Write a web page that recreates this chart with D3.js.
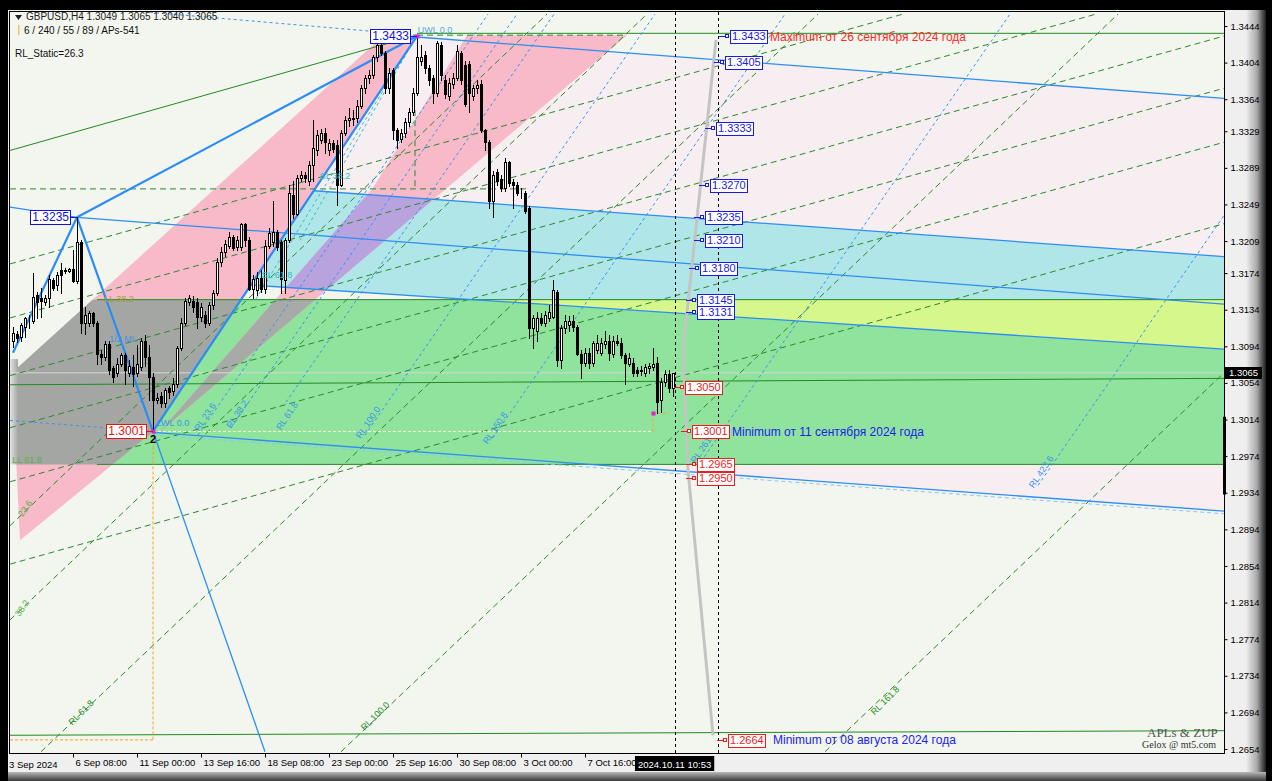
<!DOCTYPE html>
<html><head><meta charset="utf-8">
<script src="https://cdn.jsdelivr.net/npm/d3@7/dist/d3.min.js"></script>
<style>
html,body{margin:0;padding:0;background:#000;overflow:hidden}
svg{display:block;font-family:"Liberation Sans",Arial,sans-serif}
</style></head><body>
<svg id="chart" width="1272" height="781"></svg>
<script>
// ---------------- DATA ----------------
const symbolTitle = "GBPUSD,H4  1.3049 1.3065 1.3040 1.3065";
const infoLine = "6 / 240 / 55 / 89 / APs-541";
const staticLine = "RL_Static=26.3";
// H4 candles [open, high, low, close], bar 0 = 3 Sep 20:00
const candles = [
[1.3100,1.3115,1.3093,1.3109],[1.3108,1.3111,1.3099,1.3103],[1.3104,1.3120,1.3100,1.3117],[1.3115,1.3126,1.3104,1.3125],
[1.3119,1.3128,1.3114,1.3120],[1.3122,1.3174,1.3119,1.3148],[1.3150,1.3153,1.3125,1.3142],[1.3147,1.3158,1.3126,1.3144],
[1.3142,1.3150,1.3139,1.3147],[1.3147,1.3172,1.3137,1.3168],[1.3166,1.3169,1.3155,1.3158],[1.3161,1.3175,1.3155,1.3172],
[1.3177,1.3185,1.3152,1.3172],[1.3176,1.3180,1.3174,1.3177],[1.3176,1.3180,1.3175,1.3178],[1.3178,1.3199,1.3164,1.3165],
[1.3165,1.3235,1.3163,1.3208],[1.3208,1.3210,1.3109,1.3119],[1.3119,1.3137,1.3108,1.3128],[1.3120,1.3133,1.3116,1.3130],
[1.3130,1.3132,1.3116,1.3119],[1.3119,1.3122,1.3075,1.3086],[1.3086,1.3090,1.3075,1.3082],[1.3082,1.3100,1.3079,1.3097],
[1.3097,1.3100,1.3064,1.3068],[1.3070,1.3073,1.3055,1.3060],[1.3065,1.3081,1.3062,1.3075],[1.3075,1.3087,1.3072,1.3084],
[1.3084,1.3087,1.3053,1.3068],[1.3065,1.3079,1.3062,1.3073],[1.3071,1.3084,1.3051,1.3064],[1.3065,1.3095,1.3062,1.3075],
[1.3071,1.3103,1.3068,1.3100],[1.3100,1.3106,1.3073,1.3082],[1.3082,1.3095,1.3035,1.3060],[1.3060,1.3065,1.3001,1.3035],
[1.3035,1.3043,1.3032,1.3038],[1.3040,1.3044,1.3028,1.3032],[1.3032,1.3048,1.3028,1.3046],[1.3048,1.3051,1.3038,1.3044],
[1.3045,1.3059,1.3041,1.3053],[1.3053,1.3094,1.3050,1.3092],[1.3092,1.3125,1.3090,1.3120],[1.3120,1.3147,1.3117,1.3144],
[1.3142,1.3150,1.3139,1.3147],[1.3144,1.3149,1.3131,1.3137],[1.3142,1.3147,1.3114,1.3126],[1.3126,1.3141,1.3122,1.3137],
[1.3128,1.3133,1.3115,1.3119],[1.3120,1.3142,1.3117,1.3139],[1.3139,1.3155,1.3135,1.3152],[1.3152,1.3190,1.3150,1.3186],
[1.3186,1.3203,1.3182,1.3197],[1.3197,1.3210,1.3193,1.3206],[1.3204,1.3219,1.3201,1.3213],[1.3213,1.3216,1.3199,1.3201],
[1.3202,1.3214,1.3199,1.3210],[1.3202,1.3229,1.3199,1.3228],[1.3228,1.3229,1.3204,1.3210],[1.3210,1.3213,1.3155,1.3157],
[1.3157,1.3172,1.3147,1.3168],[1.3155,1.3175,1.3150,1.3169],[1.3169,1.3177,1.3153,1.3157],[1.3157,1.3210,1.3152,1.3204],
[1.3204,1.3223,1.3201,1.3218],[1.3208,1.3253,1.3204,1.3219],[1.3219,1.3221,1.3199,1.3202],[1.3208,1.3210,1.3152,1.3168],
[1.3166,1.3212,1.3152,1.3210],[1.3210,1.3270,1.3208,1.3261],[1.3259,1.3275,1.3234,1.3239],[1.3239,1.3281,1.3237,1.3278],
[1.3278,1.3286,1.3275,1.3281],[1.3281,1.3284,1.3273,1.3278],[1.3275,1.3297,1.3270,1.3292],[1.3292,1.3341,1.3275,1.3311],
[1.3308,1.3330,1.3303,1.3325],[1.3319,1.3332,1.3316,1.3327],[1.3327,1.3333,1.3305,1.3317],[1.3308,1.3321,1.3303,1.3316],
[1.3316,1.3319,1.3306,1.3310],[1.3314,1.3319,1.3248,1.3270],[1.3270,1.3330,1.3269,1.3327],[1.3327,1.3346,1.3325,1.3341],
[1.3341,1.3354,1.3335,1.3343],[1.3343,1.3352,1.3336,1.3342],[1.3343,1.3363,1.3339,1.3357],[1.3357,1.3379,1.3354,1.3376],
[1.3376,1.3390,1.3371,1.3387],[1.3387,1.3396,1.3382,1.3390],[1.3390,1.3412,1.3387,1.3410],[1.3410,1.3428,1.3406,1.3423],
[1.3423,1.3426,1.3412,1.3415],[1.3415,1.3417,1.3371,1.3376],[1.3376,1.3398,1.3371,1.3393],[1.3396,1.3398,1.3321,1.3330],
[1.3330,1.3333,1.3311,1.3319],[1.3321,1.3332,1.3317,1.3327],[1.3327,1.3343,1.3323,1.3339],[1.3339,1.3354,1.3335,1.3350],
[1.3350,1.3376,1.3347,1.3371],[1.3371,1.3433,1.3369,1.3410],[1.3406,1.3423,1.3401,1.3410],[1.3412,1.3417,1.3393,1.3398],
[1.3398,1.3401,1.3380,1.3385],[1.3387,1.3390,1.3360,1.3371],[1.3371,1.3428,1.3368,1.3425],[1.3423,1.3426,1.3385,1.3390],
[1.3385,1.3390,1.3365,1.3370],[1.3368,1.3387,1.3363,1.3382],[1.3381,1.3393,1.3376,1.3387],[1.3387,1.3423,1.3385,1.3417],
[1.3415,1.3417,1.3381,1.3385],[1.3401,1.3406,1.3357,1.3359],[1.3403,1.3406,1.3350,1.3371],[1.3368,1.3379,1.3363,1.3376],
[1.3376,1.3385,1.3371,1.3379],[1.3381,1.3385,1.3328,1.3330],[1.3330,1.3332,1.3308,1.3317],[1.3317,1.3319,1.3245,1.3253],
[1.3253,1.3286,1.3235,1.3281],[1.3284,1.3288,1.3270,1.3275],[1.3277,1.3281,1.3264,1.3267],[1.3267,1.3300,1.3264,1.3295],
[1.3295,1.3297,1.3269,1.3272],[1.3273,1.3277,1.3245,1.3270],[1.3270,1.3273,1.3259,1.3262],[1.3262,1.3267,1.3256,1.3261],
[1.3261,1.3264,1.3240,1.3242],[1.3245,1.3247,1.3103,1.3114],[1.3114,1.3128,1.3092,1.3125],[1.3111,1.3131,1.3100,1.3125],
[1.3125,1.3130,1.3117,1.3120],[1.3119,1.3133,1.3116,1.3128],[1.3125,1.3139,1.3122,1.3131],[1.3126,1.3166,1.3125,1.3155],
[1.3153,1.3155,1.3073,1.3079],[1.3079,1.3117,1.3070,1.3114],[1.3114,1.3128,1.3109,1.3122],[1.3117,1.3127,1.3111,1.3122],
[1.3122,1.3128,1.3111,1.3115],[1.3115,1.3117,1.3084,1.3086],[1.3086,1.3090,1.3059,1.3076],[1.3076,1.3092,1.3073,1.3087],
[1.3087,1.3092,1.3070,1.3076],[1.3076,1.3100,1.3073,1.3098],[1.3090,1.3106,1.3087,1.3098],[1.3087,1.3103,1.3084,1.3098],
[1.3097,1.3111,1.3092,1.3100],[1.3100,1.3106,1.3079,1.3087],[1.3086,1.3105,1.3082,1.3100],[1.3100,1.3106,1.3095,1.3098],
[1.3098,1.3103,1.3081,1.3084],[1.3084,1.3087,1.3053,1.3076],[1.3075,1.3087,1.3072,1.3081],[1.3076,1.3081,1.3062,1.3065],
[1.3068,1.3071,1.3062,1.3065],[1.3067,1.3072,1.3063,1.3068],[1.3065,1.3075,1.3062,1.3071],[1.3070,1.3076,1.3065,1.3072],
[1.3071,1.3092,1.3068,1.3075],[1.3076,1.3082,1.3021,1.3033],[1.3035,1.3059,1.3022,1.3055],[1.3055,1.3068,1.3051,1.3064],
[1.3064,1.3068,1.3044,1.3048],[1.3049,1.3065,1.3040,1.3065]
];
const lastPrice = 1.3065;
const yTicks = [1.3444,1.3404,1.3364,1.3329,1.3289,1.3249,1.3209,1.3174,1.3134,1.3094,1.3054,1.3014,1.2974,1.2934,1.2894,1.2854,1.2814,1.2774,1.2734,1.2694,1.2654];
const xTickBars = [15,31,47,63,79,95,111,127,143];
const xTickLabels = ["6 Sep 08:00","11 Sep 00:00","13 Sep 16:00","18 Sep 08:00","23 Sep 00:00","25 Sep 16:00","30 Sep 08:00","3 Oct 00:00","7 Oct 16:00"];
const firstDateLabel = "3 Sep 2024";
const cursorTime = "2024.10.11 10:53";
const markerBars = [165.4, 176.25];

// zones: [bar, price] vertices
const greenStartBar = 21;
const zoneGreen = [1.3145, 1.2965];
const zonePinkA = [[-0.25,1.3065],[92.5,1.3433],[101,1.3434],[35,1.3001],[1.75,1.2882]];
const zonePinkB = [[36.75,1.3001],[90,1.3267],[113.5,1.3434],[153.5,1.3434]];
const zoneCyan = [[75.25,1.3264],[302.75,1.3192],[302.75,1.3091],[59.25,1.3161]];
const tintA = [[101,1.3432],[302.75,1.3365],[302.75,1.3192],[75.25,1.3264]];
const tintB = [[142.25,1.2965],[302.75,1.2965],[302.75,1.2914]];

// lines [[bar,price],[bar,price]]
const zupLines = [[[0,1.3087],[16,1.3235]],[[16,1.3235],[35,1.3001]],[[35,1.3001],[101,1.3433]],[[16,1.3235],[101,1.3433]]];
const channelLines = [[[-0.75,1.3246],[16,1.3235]],[[35,1.3001],[63,1.2651]],[[101,1.3432],[302.75,1.3365]],
  [[75.25,1.3264],[302.75,1.3192]],[[16,1.3235],[302.75,1.3140]],[[59.25,1.3161],[302.75,1.3091]],[[35,1.3000],[302.75,1.2914]]];
const channelShadow = [[[35,1.2997],[302.75,1.2911]]];
const blueDash = [[[-0.75,1.3013],[35,1.3001]],[[34.25,1.3459],[101,1.3434]],
  [[46.25,1.2997],[118.75,1.3457]],[[54.5,1.3005],[126,1.3457]],[[68.25,1.3033],[135.25,1.3457]],
  [[88,1.2997],[160.5,1.3457]],[[120,1.2994],[193,1.3457]],[[172,1.2968],[249.25,1.3457]],[[256.25,1.2942],[302.75,1.3237]]];
const greenSolid = [[[101,1.3436],[302.75,1.3436]],[[21,1.3145],[302.75,1.3145]],[[-0.75,1.3052],[302.75,1.3059]],
  [[21,1.2965],[302.75,1.2965]],[[-0.75,1.2669],[302.75,1.2674]],[[-0.75,1.3308],[101,1.3434]]];
const greenDash = [[[-0.75,1.3266],[129.25,1.3266]],[[101,1.3434],[153.5,1.3434]],[[100.5,1.3352],[100.5,1.3266]],
  [[-0.75,1.3184],[222.5,1.3457]],[[-0.75,1.3125],[270.75,1.3457]],[[-0.75,1.3062],[302.75,1.3433]],
  [[-0.75,1.3005],[302.75,1.3376]],[[-0.75,1.2946],[302.75,1.3317]],[[-0.75,1.2856],[302.75,1.3228]],
  [[7,1.2651],[201.25,1.3457]],[[82,1.2651],[276.25,1.3457]],[[203,1.2651],[302.75,1.3065]],
  [[-0.75,1.2795],[158.5,1.3457]],[[-0.75,1.2898],[133.5,1.3457]]];
const tealDash = [[[101,1.3434],[60.5,1.3144]],[[101,1.3434],[71.75,1.3210]]];
const projection = [[175.75,1.3429],[167.5,1.3090],[168.75,1.2959],[175,1.2669]];
const orangeDash = [[[35,1.3001],[35,1.2664]],[[-0.75,1.2664],[35,1.2664]],[[160,1.3001],[160,1.3021]],[[160,1.3021],[164,1.3021]]];
const lowLine = [[35,1.3001],[160,1.3001]];
const pivotMarks = [[101,1.3433],[35,1.3001],[160,1.3021]];

// labelled levels
const blueLevels = [1.3433,1.3405,1.3333,1.3270,1.3235,1.3210,1.3180,1.3145,1.3131];
const blueLevelBar = [179.25,178,175.75,174.25,173,173,171.75,171,171];
const redLevels = [1.3050,1.3001,1.2965,1.2950,1.2664];
const redLevelBar = [168,169.75,171,171,178.75];
const notes = [
  {t:"Maximum от 26 сентября 2024 года", bar:189.25, p:1.3433, c:"#ff2a2a"},
  {t:"Minimum от 11 сентября 2024 года", bar:179.75, p:1.3001, c:"#2020ee"},
  {t:"Minimum от 08 августа 2024 года", bar:190, p:1.2664, c:"#2020ee"}];
const leftLevels = [{p:1.3235, bar:16, c:"#1010e0"},{p:1.3433, bar:101, c:"#1010e0"},{p:1.3001, bar:35, c:"#ee1010"}];
const fanTags = [
  {t:"RL 23.6",bar:48,p:1.3017,a:-56,c:"#3d95e8"},{t:"RL 38.2",bar:56,p:1.3020,a:-56,c:"#3d95e8"},
  {t:"RL 61.8",bar:68.5,p:1.3018,a:-56,c:"#3d95e8"},{t:"RL 100.0",bar:88.75,p:1.3011,a:-56,c:"#3d95e8"},
  {t:"RL 150.8",bar:120.5,p:1.3005,a:-56,c:"#3d95e8"},{t:"RL 261.8",bar:172.5,p:1.2984,a:-56,c:"#3d95e8"},
  {t:"RL 423.6",bar:257,p:1.2957,a:-56,c:"#3d95e8"},
  {t:"RL 61.8",bar:17,p:1.2694,a:-45,c:"#2a8a2a"},{t:"RL 100.0",bar:90.5,p:1.2690,a:-45,c:"#2a8a2a"},
  {t:"RL 161.8",bar:218,p:1.2707,a:-45,c:"#2a8a2a"},{t:"38.2",bar:2.25,p:1.2808,a:-55,c:"#5ab040"},
  {t:"23.6",bar:3,p:1.2917,a:-55,c:"#5ab040"},
  {t:"UWL 0.0",bar:105.5,p:1.3440,a:0,c:"#5aa5e5"},{t:"SL 38.2",bar:80.5,p:1.3280,a:0,c:"#30b8c8"},
  {t:"SL 61.8",bar:66,p:1.3172,a:0,c:"#30b8c8"},{t:"LL 38.2",bar:26.5,p:1.3146,a:0,c:"#a0a030"},
  {t:"1/2 ML",bar:27.5,p:1.3102,a:0,c:"#4a90e0"},{t:"LWL 0.0",bar:40,p:1.3010,a:0,c:"#4a90e0"},
  {t:"LL 61.8",bar:3.5,p:1.2970,a:0,c:"#5ab040"}];

// ---------------- DRAW ----------------
const svg = d3.select('#chart');
const PL=10, PT=12, PR=1224, PB=753;
const x = d3.scaleLinear().domain([0,165]).range([13,673]);
const y = d3.scaleLinear().domain([1.2654,1.3444]).range([749,26]);
const line = d3.line().x(d=>x(d[0])).y(d=>y(d[1]));
const poly = pts => line(pts) + 'Z';

const defs = svg.append('defs');
const gR = defs.append('linearGradient').attr('id','gR').attr('x1',0).attr('x2',1).attr('y1',0).attr('y2',0);
gR.append('stop').attr('offset','0%').attr('stop-color','#eeeeee');
gR.append('stop').attr('offset','55%').attr('stop-color','#a8a8a8');
gR.append('stop').attr('offset','100%').attr('stop-color','#1a1a1a');
const gB = defs.append('linearGradient').attr('id','gB').attr('x1',0).attr('x2',0).attr('y1',0).attr('y2',1);
gB.append('stop').attr('offset','0%').attr('stop-color','#b8b8b8');
gB.append('stop').attr('offset','100%').attr('stop-color','#3a3a3a');
const gL = defs.append('linearGradient').attr('id','gL').attr('x1',0).attr('x2',1).attr('y1',0).attr('y2',0);
gL.append('stop').attr('offset','0%').attr('stop-color','#e4e4e4');
gL.append('stop').attr('offset','100%').attr('stop-color','#a4a6a4');
defs.append('clipPath').attr('id','clipPlot').append('rect').attr('x',PL).attr('y',PT).attr('width',PR-PL).attr('height',PB-PT);
defs.append('clipPath').attr('id','clipGreen').append('rect').attr('x',PL).attr('y',y(zoneGreen[0])).attr('width',PR-PL).attr('height',y(zoneGreen[1])-y(zoneGreen[0]));
defs.append('clipPath').attr('id','clipCyan').append('path').attr('d',poly(zoneCyan));

// frame
svg.append('rect').attr('width',1272).attr('height',781).attr('fill','#000');
svg.append('rect').attr('x',8).attr('y',10).attr('width',1242).attr('height',763).attr('fill','#efefef');
svg.append('rect').attr('x',1246).attr('y',10).attr('width',20).attr('height',763).attr('fill','url(#gR)');
svg.append('rect').attr('x',8).attr('y',772).attr('width',1258).attr('height',9).attr('fill','url(#gB)');

const g = svg.append('g').attr('clip-path','url(#clipPlot)');
g.append('rect').attr('x',PL).attr('y',PT).attr('width',PR-PL).attr('height',PB-PT).attr('fill','#f2f6ee');
g.append('path').attr('d',poly(tintA)).attr('fill','#f7eef1');
g.append('path').attr('d',poly(tintB)).attr('fill','#f7eef1');
g.append('rect').attr('x',x(greenStartBar)).attr('y',y(zoneGreen[0])).attr('width',PR-x(greenStartBar)).attr('height',y(zoneGreen[1])-y(zoneGreen[0])).attr('fill','#8fe39c');
g.append('path').attr('d',poly(zoneCyan)).attr('fill','#b0e6e8');
g.append('path').attr('d',poly(zonePinkA)).attr('fill','#f8b9c9');
g.append('path').attr('d',poly(zonePinkB)).attr('fill','#f8b9c9');
g.append('path').attr('d',poly(zonePinkA)).attr('fill','#a4a6a4').attr('clip-path','url(#clipGreen)');
g.append('rect').attr('x',PL).attr('y',y(1.3080)).attr('width',8).attr('height',y(zoneGreen[1])-y(1.3080)).attr('fill','url(#gL)');
g.append('path').attr('d',poly(zonePinkB)).attr('fill','#a8aaa8').attr('clip-path','url(#clipGreen)');
g.append('path').attr('d',poly(zonePinkB)).attr('fill','#b9a3de').attr('clip-path','url(#clipCyan)');
g.append('path').attr('d',poly(zoneCyan)).attr('fill','#d6f78c').attr('clip-path','url(#clipGreen)');

function segs(arr, color, w, dash){
  arr.forEach(s=>{
    const l = g.append('path').attr('d',line(s)).attr('fill','none').attr('stroke',color).attr('stroke-width',w);
    if(dash) l.attr('stroke-dasharray',dash);
  });
}
segs([[[-0.75,lastPrice],[302.75,lastPrice]]],'#d6d6d6',1);
segs(greenSolid,'#228a22',1);
segs(greenDash,'#2a8a2a',1,'6,4');
segs(blueDash,'#3a92f0',1,'3,3');
segs(tealDash,'#28c0c8',1,'3,3');
segs(channelLines,'#2e8ef2',1.3);
segs(channelShadow,'#8cc4f8',1,'4,3');
segs(zupLines,'#2a8cf6',2.2);
g.append('path').attr('d',line(projection)).attr('fill','none').attr('stroke','#c4c4c4').attr('stroke-width',3);
segs(orangeDash,'#ffa020',1,'3,2');
segs([lowLine],'#fff6c8',1,'3,2');
markerBars.forEach(b=>{
  const xx = Math.round(x(b))+0.5;
  g.append('line').attr('x1',xx).attr('x2',xx).attr('y1',PT).attr('y2',PB).attr('stroke','#000').attr('stroke-dasharray','3,3');
});

// candles
const cg = g.append('g');
candles.forEach((d,i)=>{
  const [o,h,l,c] = d;
  const cx = Math.round(x(i));
  cg.append('line').attr('x1',cx+0.5).attr('x2',cx+0.5).attr('y1',Math.round(y(h))).attr('y2',Math.round(y(l))+1).attr('stroke','#000');
  const top = Math.round(y(Math.max(o,c))), bot = Math.round(y(Math.min(o,c)));
  cg.append('rect').attr('x',cx-0.5).attr('y',top+0.5).attr('width',2).attr('height',Math.max(bot-top,0))
    .attr('fill', c>=o ? '#fff' : '#000').attr('stroke','#000');
});
pivotMarks.forEach(p=>{
  g.append('rect').attr('x',Math.round(x(p[0]))-1.5).attr('y',Math.round(y(p[1]))-1.5).attr('width',4).attr('height',4).attr('fill','#e020e0');
});

// fan tags
fanTags.forEach(f=>{
  g.append('text').attr('font-size',9).attr('fill',f.c).attr('text-anchor','middle')
    .attr('transform',`translate(${x(f.bar)},${y(f.p)}) rotate(${f.a})`).attr('dy','0.35em').text(f.t);
});
g.append('text').attr('x',x(35)).attr('y',y(1.3001)+12).attr('text-anchor','middle').attr('font-size',11).attr('font-weight','bold').attr('fill','#000').text('2');

// boxed labels
function boxLabel(xl, yc, txt, color, fs){
  const gg = svg.append('g');
  const t = gg.append('text').attr('x',xl+2).attr('y',yc).attr('dy','0.36em').attr('font-size',fs).attr('fill',color).text(txt);
  const w = t.node().getComputedTextLength();
  gg.insert('rect','text').attr('x',Math.round(xl)+0.5).attr('y',Math.round(yc-fs/2-1)+0.5)
    .attr('width',Math.round(w+3)).attr('height',fs+2).attr('fill','#fff').attr('stroke',color);
  return w;
}
function levelTag(bar, p, color){
  const xl = Math.round(x(bar)), yc = Math.round(y(p));
  svg.append('line').attr('x1',xl-11).attr('x2',xl-2).attr('y1',yc+0.5).attr('y2',yc+0.5).attr('stroke',color);
  svg.append('rect').attr('x',xl-4.5).attr('y',yc-1.5).attr('width',3).attr('height',3).attr('fill','#fff').attr('stroke',color);
  boxLabel(xl, yc, p.toFixed(4), color, 11);
}
blueLevels.forEach((p,k)=>levelTag(blueLevelBar[k], p, '#1a1ae8'));
redLevels.forEach((p,k)=>levelTag(redLevelBar[k], p, '#ee1c1c'));
leftLevels.forEach(L=>{
  const xr = Math.round(x(L.bar)), yc = Math.round(y(L.p));
  const tmp = svg.append('text').attr('font-size',12).text(L.p.toFixed(4));
  const w = tmp.node().getComputedTextLength(); tmp.remove();
  svg.append('line').attr('x1',xr-6).attr('x2',xr).attr('y1',yc+0.5).attr('y2',yc+0.5).attr('stroke',L.c);
  boxLabel(xr-6-w-4, yc, L.p.toFixed(4), L.c, 12);
});
notes.forEach(n=>{
  svg.append('text').attr('x',x(n.bar)).attr('y',y(n.p)).attr('dy','0.38em').attr('font-size',12).attr('fill',n.c).text(n.t);
});

// plot border
svg.append('rect').attr('x',PL-0.5).attr('y',PT-0.5).attr('width',PR-PL+1).attr('height',PB-PT+1).attr('fill','none').attr('stroke','#000');

// right axis
const ya = svg.append('g').attr('transform',`translate(${PR+0.5},0)`)
  .call(d3.axisRight(y).tickValues(yTicks).tickSize(3).tickPadding(3).tickFormat(d3.format('.4f')));
ya.select('.domain').remove();
ya.selectAll('text').attr('font-size',9.5).attr('font-family','Liberation Sans, Arial').attr('fill','#000');
ya.selectAll('line').attr('stroke','#000');
svg.append('rect').attr('x',PR-1).attr('y',y(1.3017)).attr('width',3).attr('height',y(1.2932)-y(1.3017)).attr('fill','#000');
svg.append('rect').attr('x',PR+1).attr('y',Math.round(y(lastPrice))-6).attr('width',37).attr('height',12).attr('fill','#000');
svg.append('text').attr('x',PR+5).attr('y',Math.round(y(lastPrice))).attr('dy','0.36em').attr('font-size',9.5).attr('fill','#fff').text(lastPrice.toFixed(4));

// bottom axis
const xa = svg.append('g').attr('transform',`translate(0,${PB+0.5})`)
  .call(d3.axisBottom(x).tickValues(xTickBars).tickSize(4).tickFormat((d,k)=>xTickLabels[k]));
xa.select('.domain').remove();
xa.selectAll('text').attr('text-anchor','start').attr('x',2).attr('y',6).attr('dy','0.71em').attr('font-size',9.5).attr('font-family','Liberation Sans, Arial').attr('fill','#000');
xa.selectAll('line').attr('stroke','#000');
svg.append('text').attr('x',9).attr('y',PB+15).attr('font-size',9.5).attr('fill','#000').text(firstDateLabel);
const tb = svg.append('text').attr('x',x(markerBars[0])).attr('y',PB+15).attr('text-anchor','middle').attr('font-size',9.5).attr('fill','#fff').text(cursorTime);
const tw = tb.node().getComputedTextLength();
svg.insert('rect', () => tb.node()).attr('x',x(markerBars[0])-tw/2-3).attr('y',PB+3).attr('width',tw+6).attr('height',15).attr('fill','#000');

// header
svg.append('path').attr('d','M15,15 L22,15 L18.5,20 Z').attr('fill','#222');
svg.append('text').attr('x',26).attr('y',20).attr('font-size',10).attr('fill','#222').text(symbolTitle);
svg.append('rect').attr('x',18).attr('y',25).attr('width',1.5).attr('height',10).attr('fill','#e8c860');
svg.append('text').attr('x',24).attr('y',34).attr('font-size',10).attr('fill','#111').text(infoLine);
svg.append('text').attr('x',15).attr('y',57).attr('font-size',10).attr('fill','#111').text(staticLine);

// signature
svg.append('text').attr('x',1147).attr('y',737).attr('font-family','Liberation Serif, serif').attr('font-size',13).attr('fill','#555').text('APLs & ZUP');
svg.append('text').attr('x',1142).attr('y',748).attr('font-family','Liberation Serif, serif').attr('font-size',10).attr('fill','#333').text('Gelox @ mt5.com');
</script>
</body></html>
